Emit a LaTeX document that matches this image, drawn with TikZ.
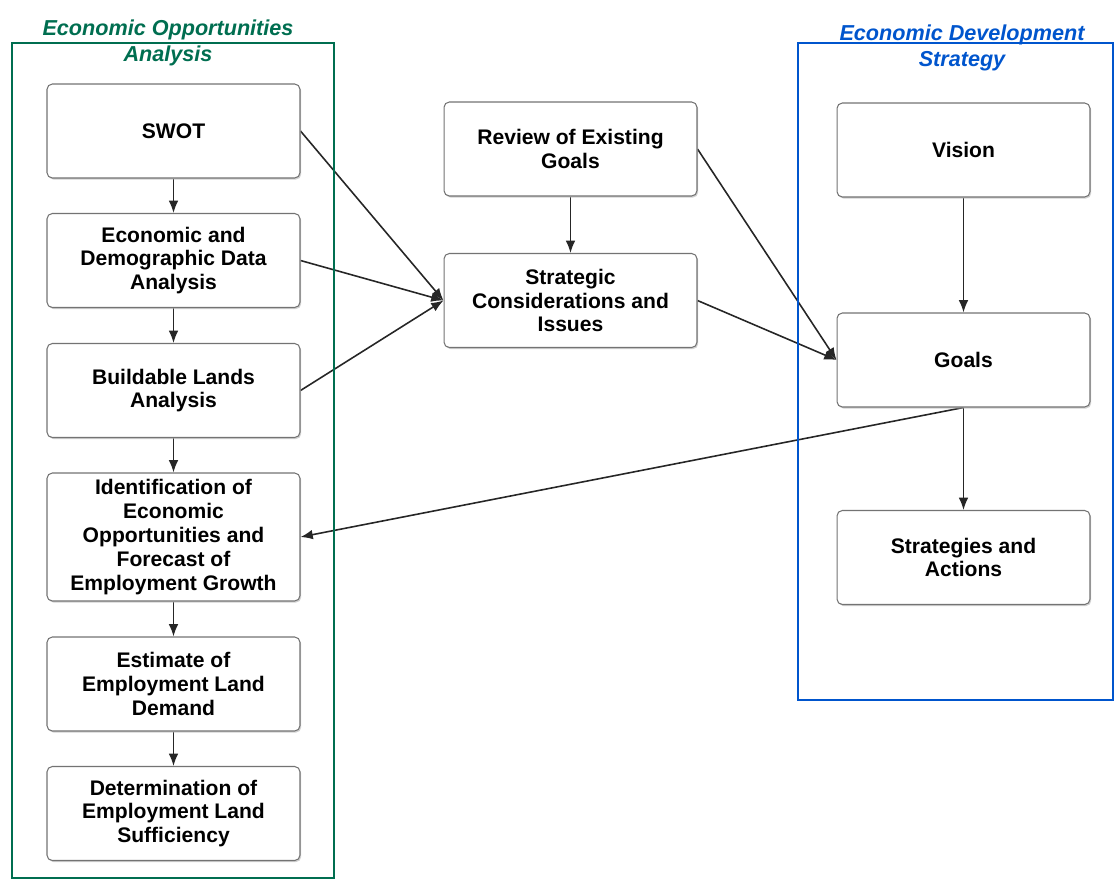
\documentclass[tikz,border=0pt]{standalone}
\usepackage{fontspec}
\setmainfont{Liberation Sans}
\usepackage{tikz}
\usetikzlibrary{shadows,arrows.meta}
\pgfdeclarelayer{bg}
\pgfsetlayers{bg,main}
\definecolor{oppgreen}{RGB}{0,110,80}
\definecolor{devblue}{RGB}{0,85,205}
\tikzset{
    every node/.style={inner sep=0mm},
    stepbox/.style={rectangle, rounded corners=3pt, draw=black!55, fill=white, line width=.6pt,
        minimum width=5.06cm, minimum height=1.88cm, align=center,
        font=\fontsize{12}{13.6}\selectfont\bfseries,
        drop shadow={shadow xshift=.7pt, shadow yshift=-.9pt, fill=black!30, opacity=.6}},
    flow/.style={-{Latex[length=7pt,width=5.5pt]}, line width=.9pt, black!85},
    title/.style={align=center, font=\fontsize{12.3}{14.7}\selectfont\bfseries\itshape}
}

\begin{document}
\begin{tikzpicture}[x=0.02cm, y=-0.02cm]
        \useasboundingbox (0,0) rectangle (1115,880);
        \draw [oppgreen, line width=1.2pt] (12,43) rectangle (334,878);
        \draw [devblue, line width=1.2pt] (798,43) rectangle (1113,700);
        \node (opptitle) [title, text=oppgreen] at (168,43) {Economic Opportunities\\Analysis};
        \node (devtitle) [title, text=devblue] at (962,48) {Economic Development\\Strategy};
        \node (swot) [stepbox] at (173.5,131) {SWOT};
        \node (econ) [stepbox] at (173.5,260.5) {Economic and\\Demographic Data\\Analysis};
        \node (build) [stepbox] at (173.5,390.5) {Buildable Lands\\Analysis};
        \node (ident) [stepbox, minimum height=2.56cm] at (173.5,537) {Identification of\\Economic\\Opportunities and\\Forecast of\\Employment Growth};
        \node (estim) [stepbox] at (173.5,684) {Estimate of\\Employment Land\\Demand};
        \node (determ) [stepbox] at (173.5,813.5) {Determination of\\Employment Land\\Sufficiency};
        \node (review) [stepbox] at (570.5,149) {Review of Existing\\Goals};
        \node (strat) [stepbox] at (570.5,300.5) {Strategic\\Considerations and\\Issues};
        \node (vision) [stepbox] at (963.5,150) {Vision};
        \node (goals) [stepbox] at (963.5,360) {Goals};
        \node (actions) [stepbox] at (963.5,557.5) {Strategies and\\Actions};
        \begin{pgfonlayer}{bg}
                \draw (swot) edge [flow] (econ);
                \draw (econ) edge [flow] (build);
                \draw (build) edge [flow] (ident);
                \draw (ident) edge [flow] (estim);
                \draw (estim) edge [flow] (determ);
                \draw (swot.east) edge [flow] (strat.west);
                \draw (econ.east) edge [flow] (strat.west);
                \draw (build.east) edge [flow] (strat.west);
                \draw (review) edge [flow] (strat);
                \draw (review.east) edge [flow] (goals.west);
                \draw (strat.east) edge [flow] (goals.west);
                \draw (vision) edge [flow] (goals);
                \draw (goals) edge [flow] (actions);
                \draw (goals.south) edge [flow] (ident.east);
        \end{pgfonlayer}
\end{tikzpicture}
\end{document}
